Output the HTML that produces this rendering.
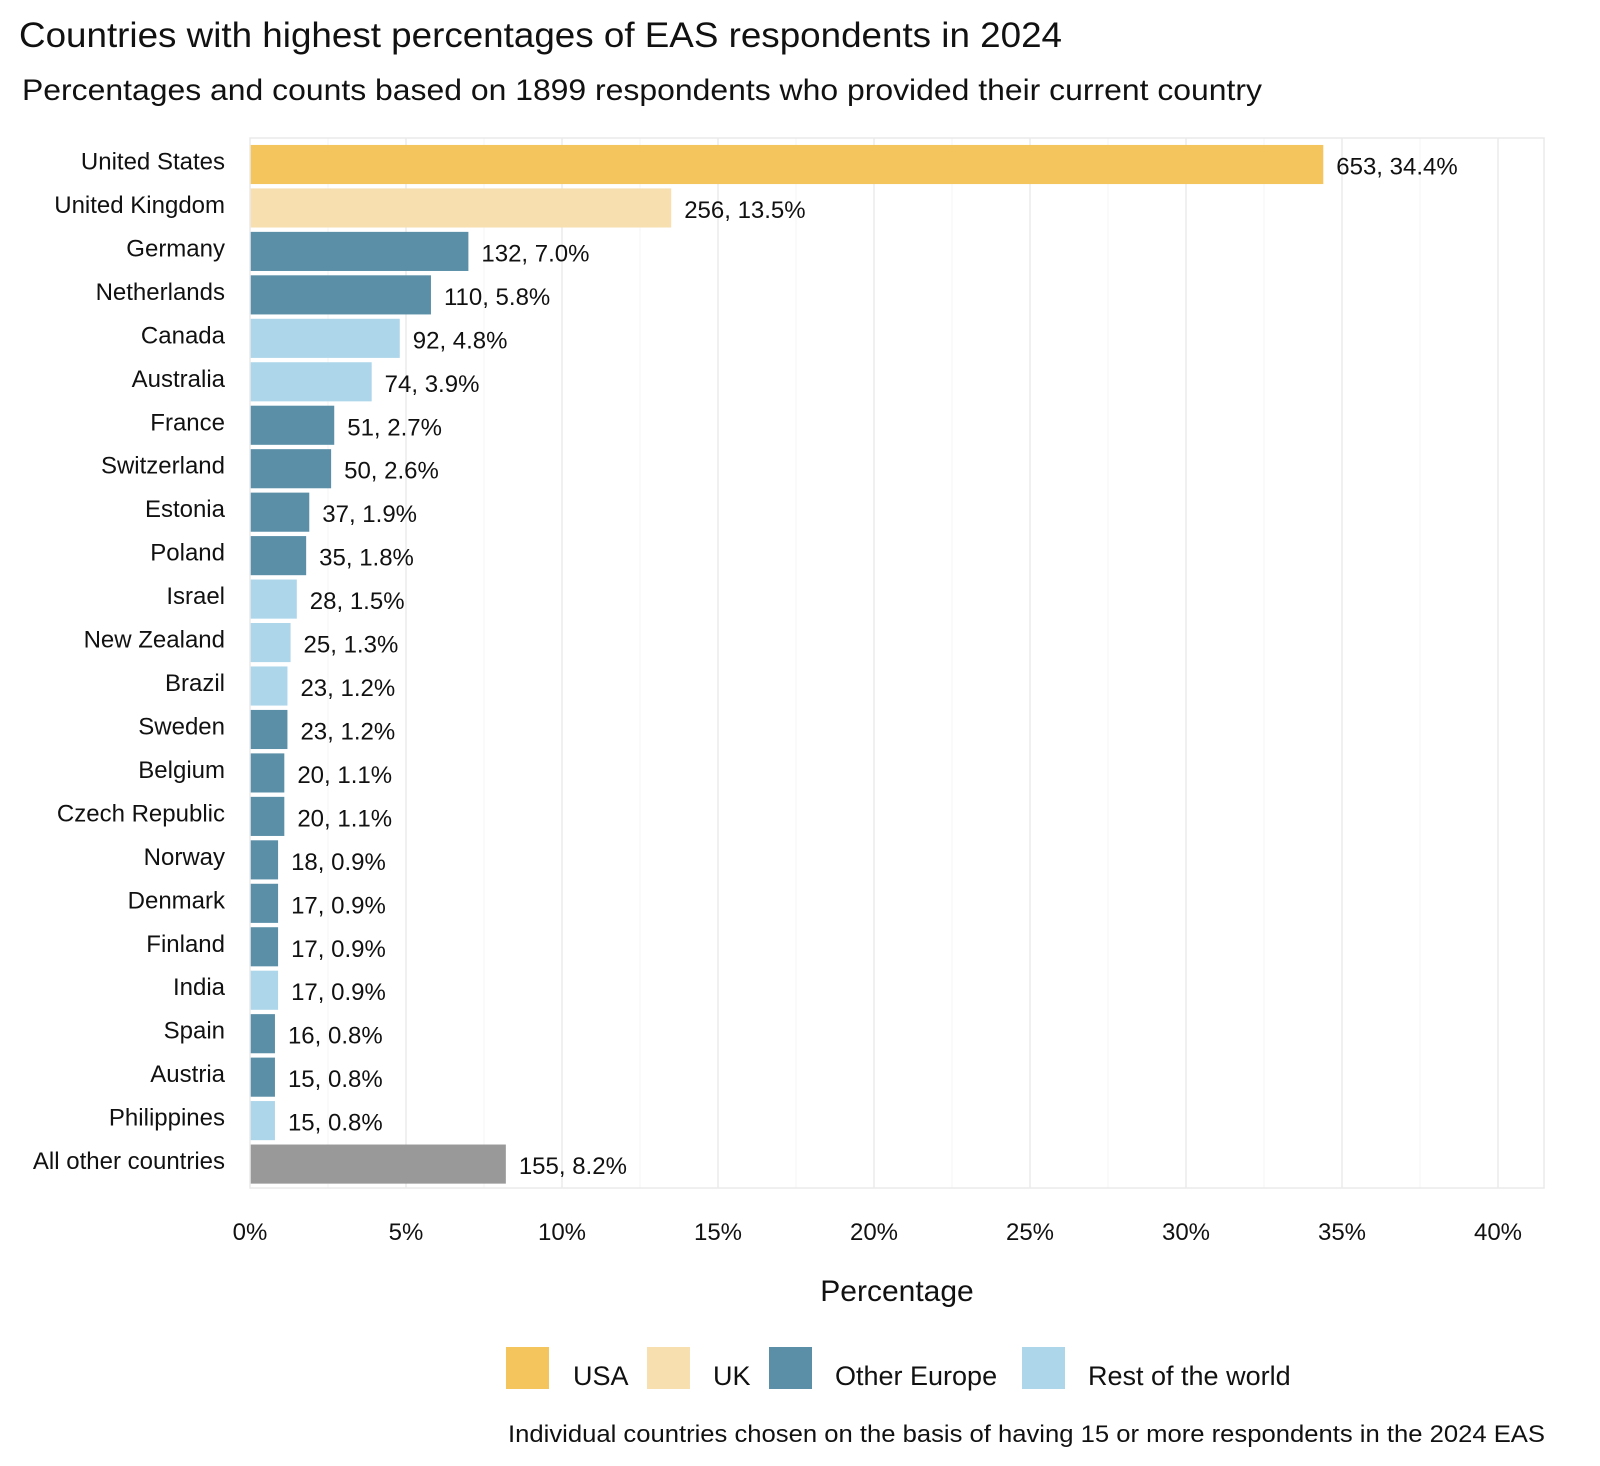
<!DOCTYPE html>
<html><head><meta charset="utf-8"><style>
html,body{margin:0;padding:0;background:#fff}
svg{display:block;font-family:"Liberation Sans",sans-serif}
</style></head><body>
<svg id="chart" width="1600" height="1466" viewBox="0 0 1600 1466">
<text x="19" y="47" font-size="35" textLength="1043" lengthAdjust="spacingAndGlyphs" fill="#111">Countries with highest percentages of EAS respondents in 2024</text>
<text x="22" y="100" font-size="30" textLength="1240" lengthAdjust="spacingAndGlyphs" fill="#111">Percentages and counts based on 1899 respondents who provided their current country</text>
<g id="grid"></g>
<g id="bars"></g>
<rect x="250" y="138" width="1294" height="1050" fill="none" stroke="#eaeaea" stroke-width="1.5"/>
<g id="xticks"></g>
<text x="897" y="1301" font-size="30" text-anchor="middle" fill="#111">Percentage</text>
<g>
<rect x="506" y="1347" width="43" height="42" fill="#f4c55c"/>
<text x="573" y="1385" font-size="27" fill="#111">USA</text>
<rect x="647" y="1347" width="43" height="42" fill="#f7dfb0"/>
<text x="713" y="1385" font-size="27" fill="#111">UK</text>
<rect x="769" y="1347" width="43" height="42" fill="#5b8fa8"/>
<text x="835" y="1385" font-size="27" fill="#111">Other Europe</text>
<rect x="1022" y="1347" width="43" height="42" fill="#add6ea"/>
<text x="1088" y="1385" font-size="27" fill="#111">Rest of the world</text>
</g>
<text x="508" y="1442" font-size="24" textLength="1037" lengthAdjust="spacingAndGlyphs" fill="#111">Individual countries chosen on the basis of having 15 or more respondents in the 2024 EAS</text>
</svg>
<script>
const countries=["United States","United Kingdom","Germany","Netherlands","Canada","Australia","France","Switzerland","Estonia","Poland","Israel","New Zealand","Brazil","Sweden","Belgium","Czech Republic","Norway","Denmark","Finland","India","Spain","Austria","Philippines","All other countries"];
const counts=[653,256,132,110,92,74,51,50,37,35,28,25,23,23,20,20,18,17,17,17,16,15,15,155];
const percents=[34.4,13.5,7.0,5.8,4.8,3.9,2.7,2.6,1.9,1.8,1.5,1.3,1.2,1.2,1.1,1.1,0.9,0.9,0.9,0.9,0.8,0.8,0.8,8.2];
const groups=["USA","UK","Europe","Europe","Rest","Rest","Europe","Europe","Europe","Europe","Rest","Rest","Rest","Europe","Europe","Europe","Europe","Europe","Europe","Rest","Europe","Europe","Rest","Other"];
const xTicks=[0,5,10,15,20,25,30,35,40];
const colors={USA:"#f4c55c",UK:"#f7dfb0",Europe:"#5b8fa8",Rest:"#add6ea",Other:"#999999"};
const NS="http://www.w3.org/2000/svg";
const x0=250,pxPer=31.2,panelTop=138,panelBottom=1188,firstCenter=164.5,rowH=43.46;
const X=v=>x0+v*pxPer;
const Yc=i=>firstCenter+i*rowH;
const grid=document.getElementById('grid'),bars=document.getElementById('bars'),xt=document.getElementById('xticks'),svg=document.getElementById('chart');
for(let k=1;k<=16;k++){
  const v=k*2.5;
  const l=document.createElementNS(NS,'line');
  l.setAttribute('x1',X(v));l.setAttribute('x2',X(v));l.setAttribute('y1',panelTop);l.setAttribute('y2',panelBottom);
  l.setAttribute('stroke',k%2===0?'#ebebeb':'#f4f4f4');l.setAttribute('stroke-width',k%2===0?1.5:1);
  
  
  grid.appendChild(l);
}
xTicks.forEach(t=>{
  const s=document.createElementNS(NS,'text');
  s.setAttribute('x',X(t));s.setAttribute('y',1240);s.setAttribute('font-size','24');s.setAttribute('text-anchor','middle');s.setAttribute('fill','#111');
  s.textContent=t+'%';
  
  
  xt.appendChild(s);
});
countries.forEach((c,i)=>{
  const yc=Yc(i),bh=rowH*0.9;
  const r=document.createElementNS(NS,'rect');
  r.setAttribute('x',x0);r.setAttribute('y',yc-bh/2);r.setAttribute('width',X(percents[i])-x0);r.setAttribute('height',bh);
  r.setAttribute('fill',colors[groups[i]]);
  
  
  bars.appendChild(r);
  const lab=document.createElementNS(NS,'text');
  lab.setAttribute('x',225);lab.setAttribute('y',yc+5);lab.setAttribute('font-size','24');lab.setAttribute('text-anchor','end');lab.setAttribute('fill','#111');
  lab.textContent=c;
  
  
  svg.appendChild(lab);
  const v=document.createElementNS(NS,'text');
  v.setAttribute('x',X(percents[i])+13);v.setAttribute('y',yc+10);v.setAttribute('font-size','24');v.setAttribute('fill','#111');
  v.textContent=counts[i]+', '+percents[i].toFixed(1)+'%';
  
  
  svg.appendChild(v);
});
</script>
</body></html>
